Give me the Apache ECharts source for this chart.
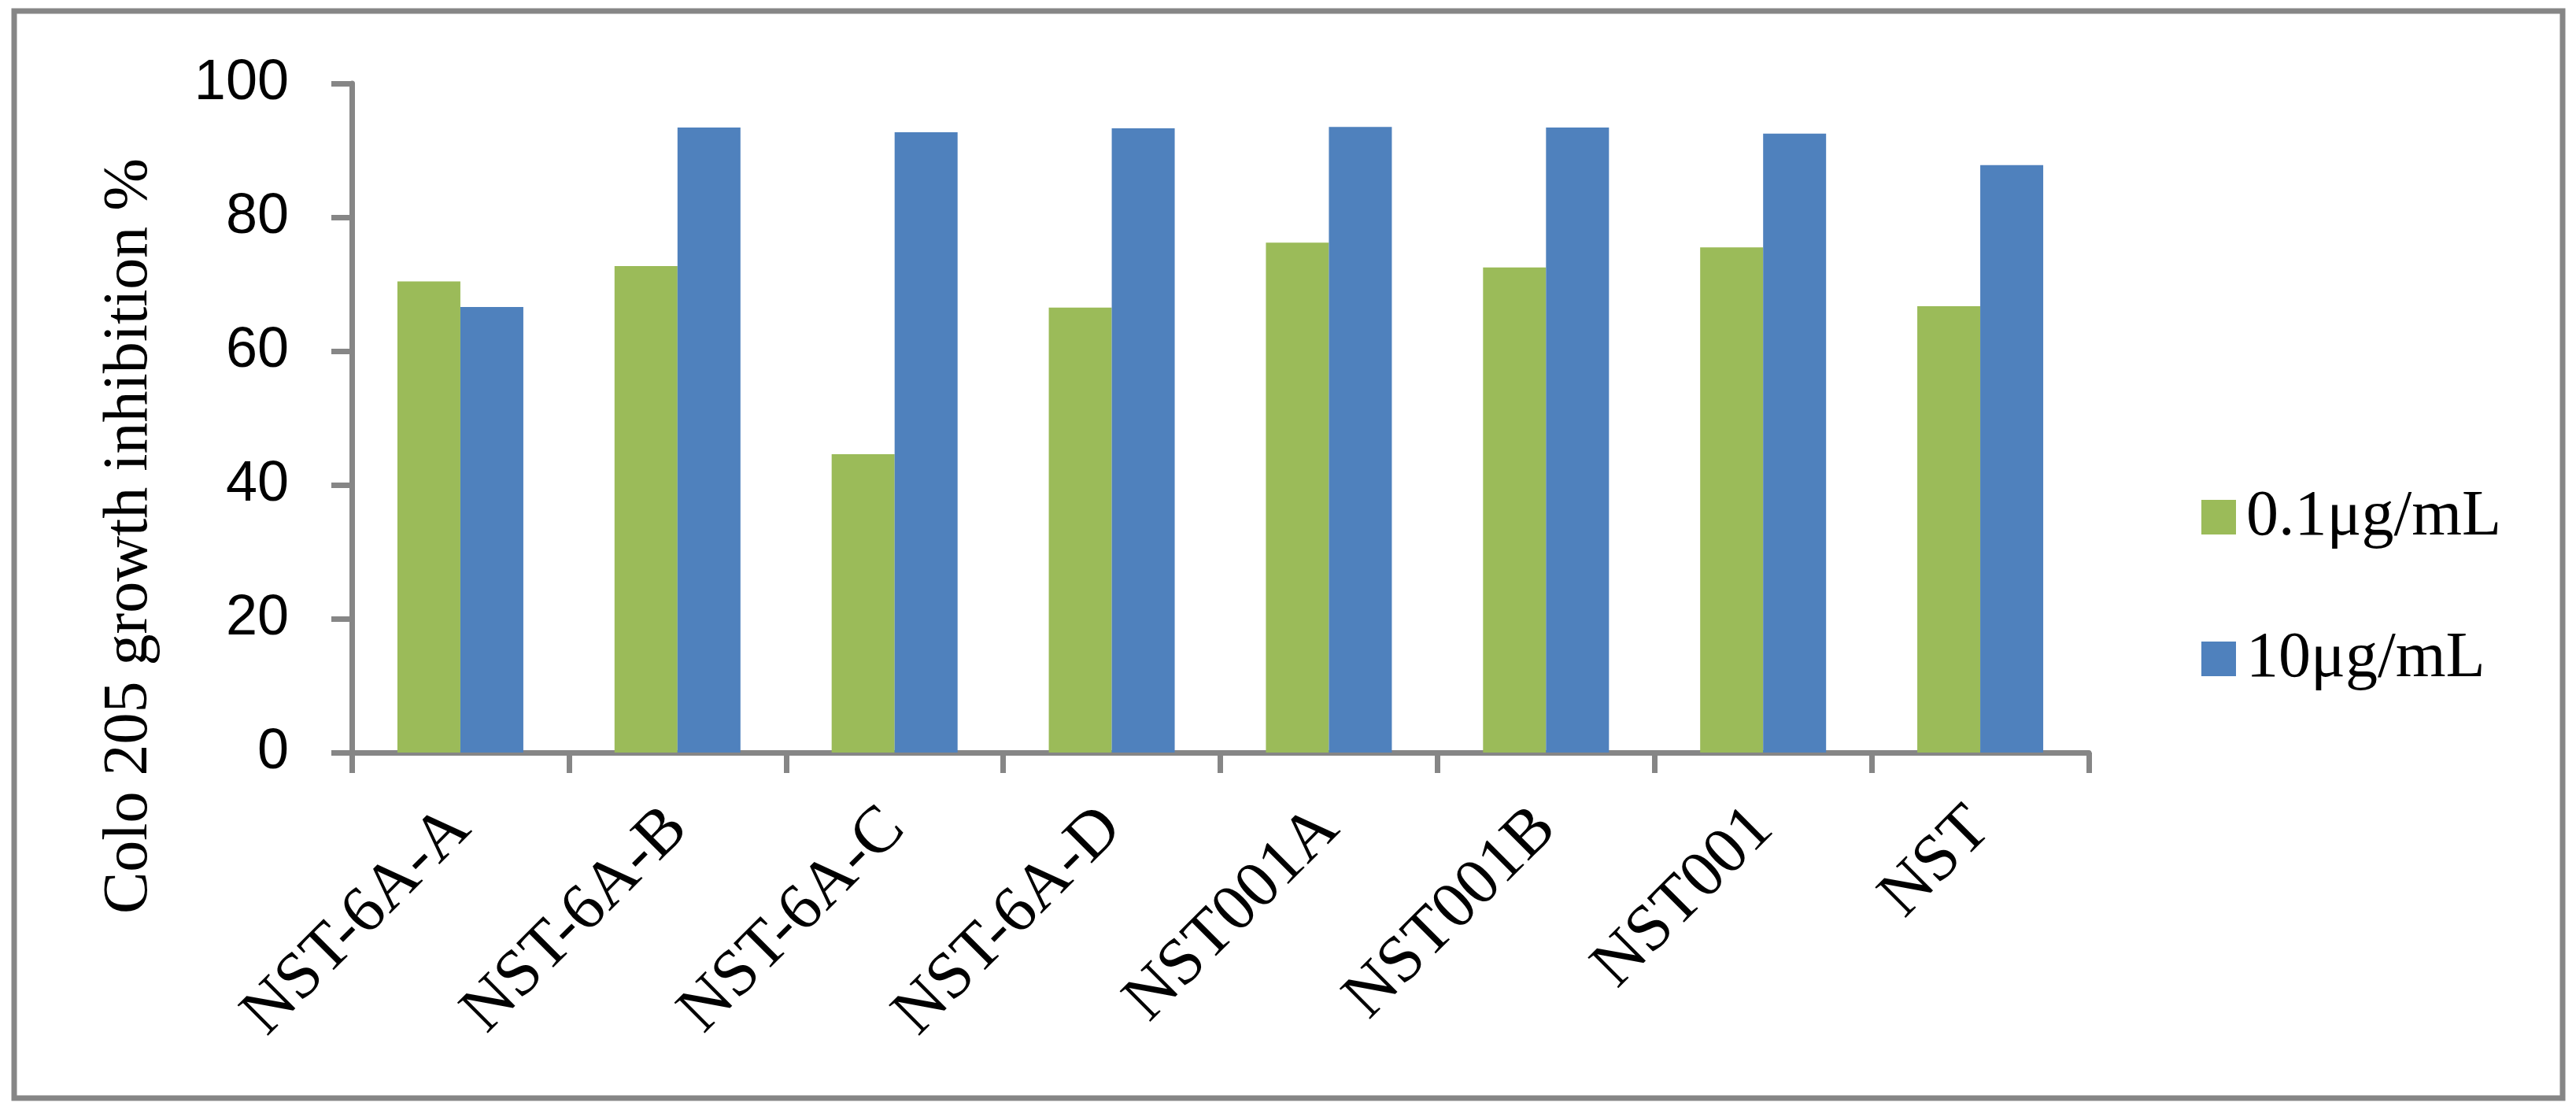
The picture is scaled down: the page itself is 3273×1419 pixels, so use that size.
<!DOCTYPE html>
<html>
<head>
<meta charset="utf-8">
<script src="https://cdn.jsdelivr.net/npm/echarts@6/dist/echarts.min.js"></script>
<style>
html,body{margin:0;padding:0;background:#fff;}
#chart{width:3273px;height:1419px;}
</style>
</head>
<body>
<div id="chart"></div>
<script>
const categories = ['NST-6A-A','NST-6A-B','NST-6A-C','NST-6A-D','NST001A','NST001B','NST001','NST'];
const seriesNames = ['0.1\u03bcg/mL','10\u03bcg/mL'];
const lowDose = [70.4, 72.7, 44.6, 66.5, 76.2, 72.5, 75.5, 66.7];
const highDose = [66.6, 93.4, 92.7, 93.3, 93.5, 93.4, 92.5, 87.8];
const yTitle = 'Colo 205 growth inhibition %';
const yMin = 0, yMax = 100, yStep = 20;

const axisGray = '#868686';
const chart = echarts.init(document.getElementById('chart'), null, {renderer:'canvas'});
chart.setOption({
  animation:false,
  backgroundColor:'#ffffff',
  grid:{left:447, right:619, top:106, bottom:463, containLabel:false},
  legend:{
    orient:'vertical',
    left:2792, top:611,
    itemWidth:44, itemHeight:44, itemGap:98,
    icon:'rect',
    textStyle:{fontFamily:'Liberation Serif', fontSize:82, color:'#000', lineHeight:44, padding:[0,0,0,8]},
    data:seriesNames
  },
  xAxis:{
    type:'category',
    data:categories,
    axisLine:{lineStyle:{color:axisGray, width:7}},
    axisTick:{show:true, length:26, lineStyle:{color:axisGray, width:7}, alignWithLabel:false},
    axisLabel:{rotate:45, margin:84, fontFamily:'Liberation Serif', fontSize:84, color:'#000', interval:0}
  },
  yAxis:{
    type:'value',
    min:yMin, max:yMax, interval:yStep,
    name:yTitle,
    nameLocation:'middle',
    nameRotate:90,
    nameGap:242,
    nameTextStyle:{fontFamily:'Liberation Serif', fontSize:80, color:'#000', padding:[0,300,0,0]},
    splitLine:{show:false},
    axisLine:{show:true, lineStyle:{color:axisGray, width:7}},
    axisTick:{show:true, length:26, lineStyle:{color:axisGray, width:7}},
    axisLabel:{margin:80, fontFamily:'Liberation Sans', fontSize:72, color:'#000'}
  },
  series:[
    {name:seriesNames[0], type:'bar', data:lowDose, itemStyle:{color:'#9BBB59'}, barGap:'0%', barCategoryGap:'42%'},
    {name:seriesNames[1], type:'bar', data:highDose, itemStyle:{color:'#4F81BD'}, barGap:'0%', barCategoryGap:'42%'}
  ],
  graphic:[
    {type:'rect', shape:{x:18, y:14, width:3238, height:1381}, style:{fill:null, stroke:axisGray, lineWidth:7}, silent:true, z:-1}
  ]
});
</script>
</body>
</html>
